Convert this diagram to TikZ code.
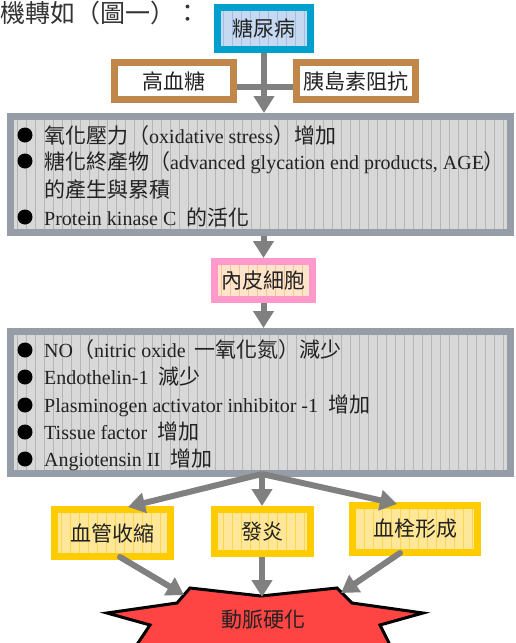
\documentclass[tikz,border=0pt]{standalone}
\usepackage{fontspec}
\setmainfont{Liberation Serif}
\newfontfamily\cjkf{Noto Sans CJK TC}
\usetikzlibrary{arrows.meta}
\definecolor{diabB}{HTML}{00A0CC}
\definecolor{diabF}{HTML}{C6D9F1}
\definecolor{diabG}{HTML}{9DBFE9}
\definecolor{brownB}{HTML}{C0874A}
\definecolor{grayB}{HTML}{969DA6}
\definecolor{grayF}{HTML}{D8D8D8}
\definecolor{grayG}{HTML}{B5B5B5}
\definecolor{pinkB}{HTML}{FF99CC}
\definecolor{pinkF}{HTML}{FDE4CB}
\definecolor{pinkG}{HTML}{F8C492}
\definecolor{yelB}{HTML}{FFCC00}
\definecolor{yelF}{HTML}{FFE799}
\definecolor{yelG}{HTML}{FFD54F}
\definecolor{arrC}{HTML}{808080}
\definecolor{starF}{HTML}{FF4444}
\definecolor{txt}{HTML}{222222}
\newcommand\cj[1]{{\cjkf\fontsize{21}{25}\selectfont #1}}

\begin{document}
\begin{tikzpicture}[x=1pt,y=-1pt,
  box/.style={line width=7pt, inner sep=0pt, text=txt, font=\cjkf\fontsize{21}{25}\selectfont},
  gridfill/.style={path picture={\draw[#1, line width=0.7pt, step=9] (path picture bounding box.south west) grid (path picture bounding box.north east);}},
  diabbox/.style={box, draw=diabB, fill=diabF, gridfill=diabG},
  brownbox/.style={box, draw=brownB, fill=white},
  graybox/.style={box, draw=grayB, fill=grayF, gridfill=grayG},
  pinkbox/.style={box, draw=pinkB, fill=pinkF, gridfill=pinkG},
  yelbox/.style={box, draw=yelB, fill=yelF, gridfill=yelG},
  textline/.style={inner sep=0pt, anchor=base west, text=txt, font=\fontsize{20}{24}\selectfont},
  bul/.style={fill=black},
  conn/.style={draw=arrC, line width=6pt},
  arr/.style={conn, -{Triangle[width=20pt,length=17pt]}},
]
\useasboundingbox (0,0) rectangle (515,643);
\clip (0,0) rectangle (515,643);

% title
\node[anchor=base west, inner sep=0pt, text=black!80, font=\cjkf\fontsize{25}{30}\selectfont] (title) at (0,22) {機轉如（圖一）：};

% top boxes
\node[diabbox, minimum width=93pt, minimum height=42pt] (diab) at (264,28.5) {糖尿病};
\node[brownbox, minimum width=119pt, minimum height=37pt] (hyper) at (174,81) {高血糖};
\node[brownbox, minimum width=119pt, minimum height=37pt] (insulin) at (356,81) {胰島素阻抗};

% first list box
\node[graybox, minimum width=500pt, minimum height=116pt] (box1) at (260.5,174.5) {};
\fill[bul] (25,135) circle[radius=7.5pt];
\fill[bul] (25,161) circle[radius=7.5pt];
\fill[bul] (25,217) circle[radius=7.5pt];
\node[textline] (l1) at (44,143) {\cj{氧化壓力（}oxidative stress\cj{）增加}};
\node[textline] (l2) at (44,169) {\cj{糖化終產物（}advanced glycation end products, AGE\cj{）}};
\node[textline] (l3) at (44,197) {\cj{的產生與累積}};
\node[textline] (l4) at (44,225) {Protein kinase C~~\cj{的活化}};

% endothelial cell
\node[pinkbox, minimum width=98pt, minimum height=38pt] (endo) at (263.5,280.5) {內皮細胞};

% second list box
\node[graybox, minimum width=500pt, minimum height=142pt] (box2) at (260.5,402.5) {};
\fill[bul] (25,350) circle[radius=7.5pt];
\fill[bul] (25,377) circle[radius=7.5pt];
\fill[bul] (25,405) circle[radius=7.5pt];
\fill[bul] (25,432) circle[radius=7.5pt];
\fill[bul] (25,459) circle[radius=7.5pt];
\node[textline] (m1) at (44,357) {NO\cj{（}nitric oxide\hspace{9pt}\cj{一氧化氮）減少}};
\node[textline] (m2) at (44,384) {Endothelin-1~~\cj{減少}};
\node[textline] (m3) at (44,412) {Plasminogen activator inhibitor -1~~\cj{增加}};
\node[textline] (m4) at (44,439) {Tissue factor~~\cj{增加}};
\node[textline] (m5) at (44,466) {Angiotensin II~~\cj{增加}};

% three outcome boxes
\node[yelbox, minimum width=116pt, minimum height=47pt] (vaso) at (112.5,533) {血管收縮};
\node[yelbox, minimum width=96pt, minimum height=44pt] (infl) at (262.5,531.5) {發炎};
\node[yelbox, minimum width=125pt, minimum height=47pt] (thromb) at (415,529) {\raisebox{3pt}{血栓形成}};

% star
\draw[black, line width=3pt, fill=starF, line join=miter]
  (190,588) -- (261,596) -- (337,588) -- (352,603) -- (423,613) -- (380,625)
  -- (395,655) -- (130,655) -- (150,625) -- (107,613) -- (177,603) -- cycle;
\node[text=txt, font=\cjkf\fontsize{21}{25}\selectfont] (athero) at (263,620) {動脈硬化};

% connectors
\draw[conn] ([yshift=-6pt]hyper.east) -- ([yshift=-6pt]insulin.west);
\draw[arr] (diab.south) -- (diab.south |- box1.north);
\draw[arr] (endo.north |- box1.south) -- (endo.north);
\draw[arr] (endo.south) -- (endo.south |- box2.north);

\coordinate (fork) at (262,474);
\coordinate (tipL) at (128,507);
\coordinate (tipR) at (397,504);
\draw[arr] (fork) -- (tipL);
\draw[arr] (fork) -- (fork |- infl.north);
\draw[arr] (fork) -- (tipR);

\coordinate (sL) at (120,557);
\coordinate (sLt) at (184,595);
\coordinate (sMt) at (262,597);
\coordinate (sR) at (400,553);
\coordinate (sRt) at (341,593);
\draw[arr, line cap=round] (sL) -- (sLt);
\draw[arr] (fork |- infl.south) -- (sMt);
\draw[arr, line cap=round] (sR) -- (sRt);
\end{tikzpicture}
\end{document}
